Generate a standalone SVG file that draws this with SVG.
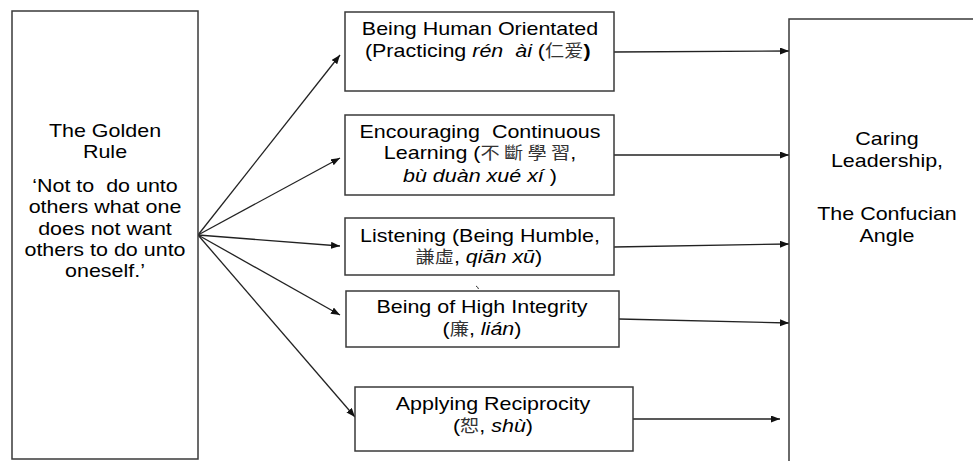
<svg xmlns="http://www.w3.org/2000/svg" width="973" height="461" viewBox="0 0 973 461">
<style>
.box{fill:#fff;stroke:#3a3a3a;stroke-width:1.5}
.t{font-family:"Liberation Sans",Arial,sans-serif;font-size:19px;fill:#000;text-anchor:middle}
.i{font-style:italic}
.cj{font-family:"Noto Sans CJK TC","Noto Sans CJK SC",sans-serif;font-size:17px;fill:#333}
.cs{font-family:"Noto Sans CJK SC","Noto Sans CJK TC",sans-serif;font-size:17px;fill:#333}
.c{fill:none;stroke:#222;stroke-width:1.3}
</style>
<defs>
<marker id="ah" markerUnits="userSpaceOnUse" markerWidth="10" markerHeight="8" refX="9" refY="3.5" orient="auto">
<path d="M0,0 L9,3.5 L0,7 z" fill="#111"/>
</marker>
</defs>
<rect width="973" height="461" fill="#fff"/>
<g id="connectors">
<line class="c" x1="198" y1="235" x2="340" y2="55" marker-end="url(#ah)"/>
<line class="c" x1="198" y1="235" x2="340" y2="158" marker-end="url(#ah)"/>
<line class="c" x1="198" y1="235" x2="340" y2="246" marker-end="url(#ah)"/>
<line class="c" x1="198" y1="235" x2="340" y2="315" marker-end="url(#ah)"/>
<line class="c" x1="198" y1="235" x2="355" y2="417" marker-end="url(#ah)"/>
<line class="c" x1="614" y1="52" x2="789" y2="51" marker-end="url(#ah)"/>
<line class="c" x1="614" y1="155" x2="789" y2="155" marker-end="url(#ah)"/>
<line class="c" x1="614" y1="247" x2="789" y2="244" marker-end="url(#ah)"/>
<line class="c" x1="619" y1="319" x2="789" y2="323" marker-end="url(#ah)"/>
<line class="c" x1="633" y1="419" x2="780" y2="419" marker-end="url(#ah)"/>
<path d="M476,286 q2,1 2.5,3" fill="none" stroke="#333" stroke-width="1"/>
</g>
<g id="golden-rule">
<rect class="box" x="12" y="11" width="186" height="448"/>
<g transform="matrix(1.13,0,0,1,-13.65,0)">
<text class="t" x="105" y="137">The Golden</text>
<text class="t" x="105" y="158">Rule</text>
<text class="t" x="105" y="192">‘Not to &#160;do unto</text>
<text class="t" x="105" y="213">others what one</text>
<text class="t" x="105" y="235">does not want</text>
<text class="t" x="105" y="256">others to do unto</text>
<text class="t" x="105" y="277">oneself.’</text>
</g>
</g>
<g id="human-orientated">
<rect class="box" x="345" y="12" width="269" height="79"/>
<g transform="matrix(1.13,0,0,1,-62.4,0)">
<text class="t" x="480" y="35">Being Human Orientated</text>
<text class="t" x="478" y="57">(Practicing <tspan class="i">rén &#160;ài</tspan> (<tspan class="cs">仁爱</tspan><tspan font-weight="bold">)</tspan></text>
</g>
</g>
<g id="continuous-learning">
<rect class="box" x="345" y="115" width="269" height="80"/>
<g transform="matrix(1.13,0,0,1,-62.4,0)">
<text class="t" x="480" y="138">Encouraging &#160;Continuous</text>
<text class="t" x="480" y="159">Learning (<tspan class="cj">不 斷 學 習</tspan>,</text>
<text class="t" x="480" y="182"><tspan class="i">bù duàn xué xí</tspan> )</text>
</g>
</g>
<g id="listening">
<rect class="box" x="345" y="218" width="269" height="57"/>
<g transform="matrix(1.13,0,0,1,-62.4,0)">
<text class="t" x="480" y="242">Listening (Being Humble,</text>
<text class="t" x="479" y="263"><tspan class="cj">謙虛</tspan>, <tspan class="i">qiān xū</tspan>)</text>
</g>
</g>
<g id="integrity">
<rect class="box" x="346" y="291" width="273" height="56"/>
<g transform="matrix(1.13,0,0,1,-62.66,0)">
<text class="t" x="482" y="313">Being of High Integrity</text>
<text class="t" x="482" y="335">(<tspan class="cj">廉</tspan>, <tspan class="i">lián</tspan>)</text>
</g>
</g>
<g id="reciprocity">
<rect class="box" x="355" y="387" width="278" height="64"/>
<g transform="matrix(1.13,0,0,1,-64.09,0)">
<text class="t" x="493" y="410">Applying Reciprocity</text>
<text class="t" x="493" y="432">(<tspan class="cj">恕</tspan>, <tspan class="i">shù</tspan>)</text>
</g>
</g>
<g id="caring-leadership">
<rect class="box" x="789" y="19" width="200" height="460"/>
<g transform="matrix(1.13,0,0,1,-115.31,0)">
<text class="t" x="887" y="145">Caring</text>
<text class="t" x="887" y="167">Leadership,</text>
<text class="t" x="887" y="220">The Confucian</text>
<text class="t" x="887" y="242">Angle</text>
</g>
</g>
</svg>
